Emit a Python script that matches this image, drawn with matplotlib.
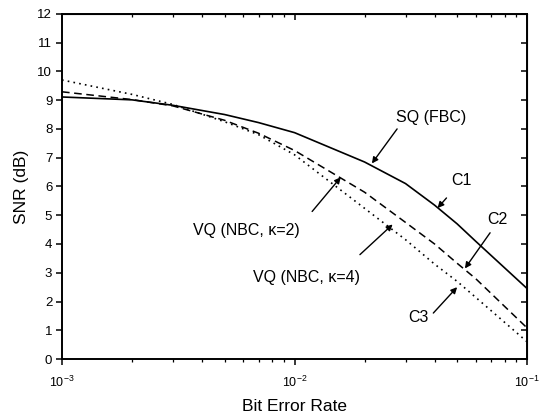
import math
import matplotlib
matplotlib.use("Agg")
import matplotlib.pyplot as plt
from matplotlib.ticker import LogLocator, NullFormatter, MultipleLocator, FuncFormatter

plt.rcParams['font.family'] = ['Liberation Sans', 'DejaVu Sans']

# bit error rate (x) and SNR in dB
ber = [0.001, 0.002, 0.003, 0.005, 0.007, 0.01, 0.02, 0.03, 0.04, 0.05, 0.06, 0.1]
snr_sq = [9.11, 9.01, 8.82, 8.50, 8.22, 7.87, 6.85, 6.10, 5.35, 4.70, 4.10, 2.45]   # C1
snr_vq2 = [9.29, 9.02, 8.80, 8.30, 7.85, 7.25, 5.80, 4.75, 4.00, 3.33, 2.80, 1.08]  # C2
snr_vq4 = [9.70, 9.20, 8.85, 8.25, 7.80, 7.10, 5.24, 4.15, 3.30, 2.70, 2.15, 0.60]  # C3

fig = plt.figure(figsize=(5.39, 4.19), dpi=100)
ax = fig.add_axes([0.115, 0.143, 0.863, 0.824])

ax.plot(ber, snr_sq, color='black', lw=1.2, ls='-')
ax.plot(ber, snr_vq2, color='black', lw=1.1, ls=(0, (5, 3)))
ax.plot(ber, snr_vq4, color='black', lw=1.2, ls=(0, (1, 2.5)))

ax.set_xscale('log')
ax.set_xlim(1e-3, 1e-1)
ax.set_ylim(0, 12)
ax.yaxis.set_major_locator(MultipleLocator(1))
ax.xaxis.set_major_locator(LogLocator(base=10))
ax.xaxis.set_minor_locator(LogLocator(base=10, subs=range(2, 10)))
ax.xaxis.set_minor_formatter(NullFormatter())
ax.xaxis.set_major_formatter(FuncFormatter(
    lambda v, pos: r'$\mathregular{10^{%d}}$' % round(math.log10(v))))

ax.tick_params(which='both', direction='out', top=False, right=False)
ax.tick_params(axis='y', labelsize=9.5, pad=3)
ax.tick_params(axis='x', labelsize=9, pad=7)
ax.tick_params(which='major', length=4, width=1.1)
ax.tick_params(which='minor', length=2.5, width=0.9)

# mirrored ticks pointing inward on top and right
sec_x = ax.secondary_xaxis('top')
sec_x.xaxis.set_major_locator(LogLocator(base=10))
sec_x.xaxis.set_minor_locator(LogLocator(base=10, subs=range(2, 10)))
sec_x.tick_params(which='both', direction='in', labeltop=False)
sec_x.tick_params(which='major', length=4, width=1.1)
sec_x.tick_params(which='minor', length=2.5, width=0.9)
sec_x.xaxis.set_minor_formatter(NullFormatter())
sec_x.xaxis.set_major_formatter(NullFormatter())
sec_y = ax.secondary_yaxis('right')
sec_y.yaxis.set_major_locator(MultipleLocator(1))
sec_y.tick_params(direction='in', length=4, width=1.1, labelright=False)

for s in ax.spines.values():
    s.set_linewidth(1.4)

ax.set_xlabel('Bit Error Rate', fontsize=12.5, labelpad=7)
ax.set_ylabel('SNR (dB)', fontsize=12.5, labelpad=6)

arrow = dict(arrowstyle='-|>', color='black', lw=1.0, mutation_scale=9, shrinkA=0, shrinkB=0)
fs = 11.5
ax.annotate('SQ (FBC)', xy=(0.0215, 6.80), xytext=(0.0385, 8.4),
            ha='center', va='center', fontsize=fs)
ax.annotate('', xy=(0.0215, 6.80), xytext=(0.0276, 8.0), arrowprops=arrow)
ax.annotate('C1', xy=(0.0412, 5.25), xytext=(0.0520, 6.2),
            ha='center', va='center', fontsize=fs)
ax.annotate('', xy=(0.0412, 5.25), xytext=(0.0450, 5.6), arrowprops=arrow)
ax.annotate('C2', xy=(0.0540, 3.15), xytext=(0.0745, 4.85),
            ha='center', va='center', fontsize=fs)
ax.annotate('', xy=(0.0540, 3.15), xytext=(0.0693, 4.39), arrowprops=arrow)
ax.annotate('C3', xy=(0.0500, 2.50), xytext=(0.0340, 1.45),
            ha='center', va='center', fontsize=fs)
ax.annotate('', xy=(0.0500, 2.50), xytext=(0.0395, 1.60), arrowprops=arrow)
ax.annotate('VQ (NBC, κ=2)', xy=(0.0158, 6.32), xytext=(0.00618, 4.48),
            ha='center', va='center', fontsize=fs)
ax.annotate('', xy=(0.0158, 6.32), xytext=(0.0119, 5.13), arrowprops=arrow)
ax.annotate('VQ (NBC, κ=4)', xy=(0.0264, 4.68), xytext=(0.0112, 2.85),
            ha='center', va='center', fontsize=fs)
ax.annotate('', xy=(0.0264, 4.68), xytext=(0.0191, 3.63), arrowprops=arrow)

fig.savefig('out.png', dpi=100)
